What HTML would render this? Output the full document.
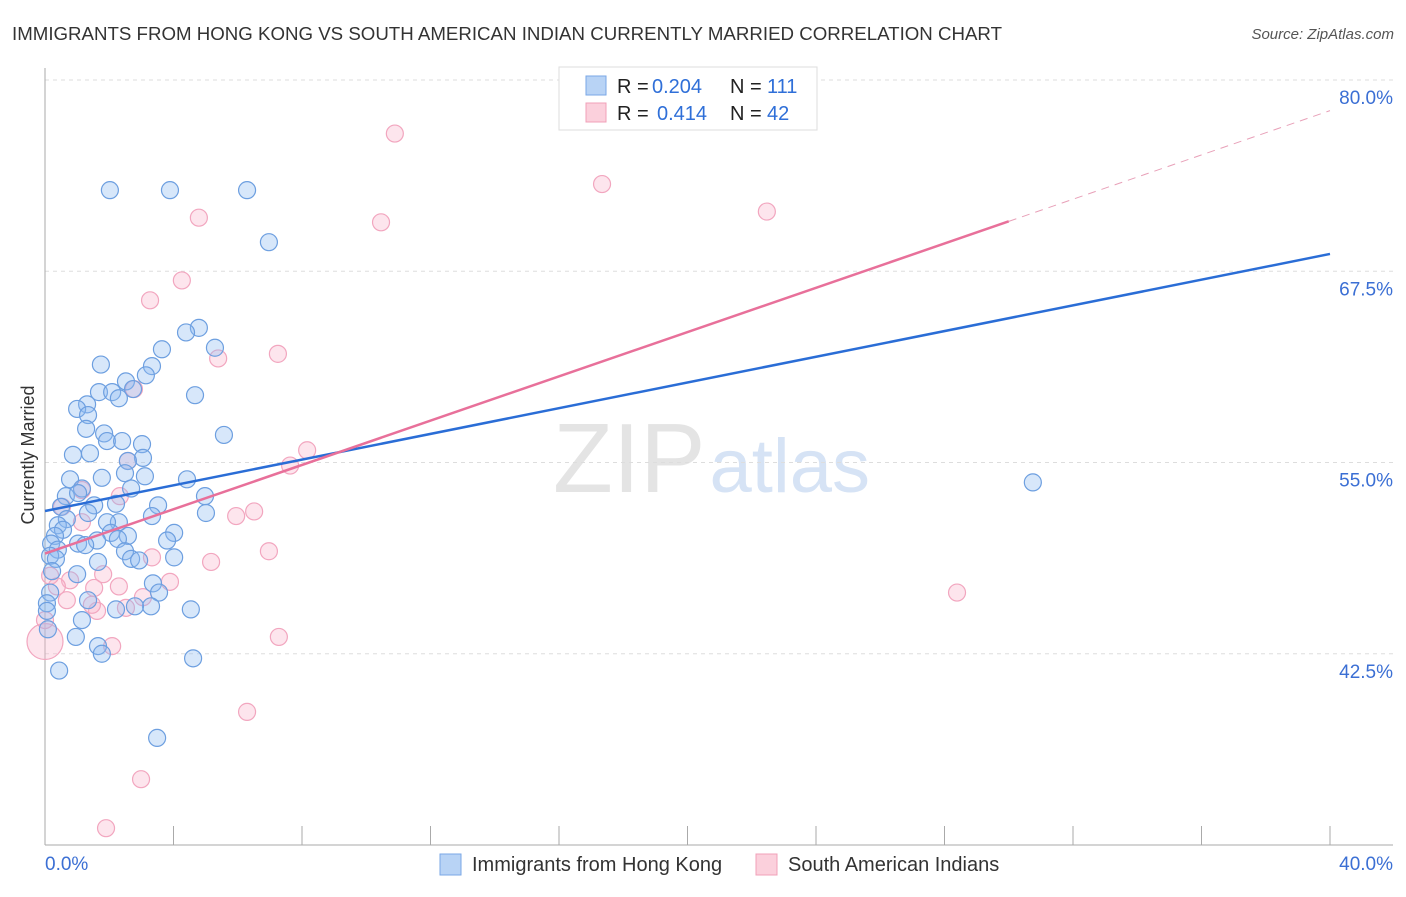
<!DOCTYPE html>
<html><head><meta charset="utf-8"><style>
body{margin:0;background:#fff;font-family:"Liberation Sans",sans-serif}
svg text{font-family:"Liberation Sans",sans-serif}
</style></head><body>
<svg id="chart" width="1406" height="892" xmlns="http://www.w3.org/2000/svg">
<text x="12" y="40" font-size="18" fill="#333" textLength="990" lengthAdjust="spacingAndGlyphs">IMMIGRANTS FROM HONG KONG VS SOUTH AMERICAN INDIAN CURRENTLY MARRIED CORRELATION CHART</text>
<text x="1394" y="39" font-size="15" fill="#555" font-style="italic" text-anchor="end">Source: ZipAtlas.com</text>
<text x="553" y="492" font-size="98" fill="#e4e4e4" font-family="Liberation Serif">ZIP<tspan fill="#d6e3f5" font-family="Liberation Sans" font-size="76" dx="4">atlas</tspan></text>
<g id="grid"></g><g id="axes"></g><g id="pts"></g><g id="lines"></g>
<text transform="translate(34,455) rotate(-90)" font-size="18" fill="#333" text-anchor="middle">Currently Married</text>
<g>
<rect x="559" y="67" width="258" height="63" fill="#fff" stroke="#ddd"/>
<rect x="586" y="76" width="20" height="19" fill="#b8d3f5" stroke="#7aa7e6"/>
<text x="617" y="93" font-size="20" fill="#222">R =</text>
<text x="652" y="93" font-size="20" fill="#2f6fd8">0.204</text>
<text x="730" y="93" font-size="20" fill="#222">N =</text>
<text x="767" y="93" font-size="20" fill="#2f6fd8">111</text>
<rect x="586" y="103" width="20" height="19" fill="#fbd0dc" stroke="#f0a0b8"/>
<text x="617" y="120" font-size="20" fill="#222">R =</text>
<text x="657" y="120" font-size="20" fill="#2f6fd8">0.414</text>
<text x="730" y="120" font-size="20" fill="#222">N =</text>
<text x="767" y="120" font-size="20" fill="#2f6fd8">42</text>
</g>
<g>
<rect x="440" y="854" width="21" height="21" fill="#b8d3f5" stroke="#7aa7e6"/>
<text x="472" y="871" font-size="20" fill="#333">Immigrants from Hong Kong</text>
<rect x="756" y="854" width="21" height="21" fill="#fbd0dc" stroke="#f0a0b8"/>
<text x="788" y="871" font-size="20" fill="#333">South American Indians</text>
</g>
</svg>
<script>
const blueX=[2.02,3.89,6.29,6.97,4.79,4.39,5.29,3.64,1.74,3.33,3.14,2.52,1.68,2.09,2.30,2.74,4.67,1.31,1.00,1.34,5.57,1.84,1.28,1.93,2.40,3.02,1.40,0.87,3.05,2.58,2.49,3.11,0.78,4.42,1.77,1.15,2.68,0.65,1.03,4.98,1.53,2.21,3.52,0.50,1.34,3.33,5.01,0.68,2.30,1.93,0.40,0.56,2.05,2.58,4.02,0.31,1.62,2.27,1.03,1.25,0.19,0.40,2.49,3.80,0.16,0.34,4.02,2.68,2.93,1.65,0.22,1.00,3.36,0.16,3.55,0.06,3.30,2.80,2.21,4.54,1.15,0.09,0.96,1.65,1.77,4.61,0.44,3.49,30.75,0.06,1.34];
const blueY=[72.8,72.8,72.8,69.4,63.8,63.5,62.5,62.4,61.4,61.3,60.7,60.3,59.6,59.6,59.2,59.8,59.4,58.8,58.5,58.1,56.8,56.9,57.2,56.4,56.4,56.2,55.6,55.5,55.3,55.1,54.3,54.1,53.9,53.9,54.0,53.3,53.3,52.8,53.0,52.8,52.2,52.3,52.2,52.1,51.7,51.5,51.7,51.3,51.1,51.1,50.9,50.6,50.4,50.2,50.4,50.2,49.9,50.0,49.7,49.6,49.7,49.3,49.2,49.9,48.9,48.7,48.8,48.7,48.6,48.5,47.9,47.7,47.1,46.5,46.5,45.8,45.6,45.6,45.4,45.4,44.7,44.1,43.6,43.0,42.5,42.2,41.4,37.0,53.7,45.3,46.0];
const pinkX=[10.89,17.34,22.47,4.79,10.46,4.26,3.27,7.25,5.39,2.77,8.16,2.58,7.63,2.33,1.15,0.53,6.51,5.95,1.15,3.33,6.97,5.17,1.81,0.78,2.30,0.37,3.89,1.53,3.05,0.68,1.62,2.52,28.39,7.28,2.09,0.00,6.29,2.99,1.90,0.16,0.00,1.46];
const pinkY=[76.5,73.2,71.4,71.0,70.7,66.9,65.6,62.1,61.8,59.8,55.8,55.1,54.8,52.8,53.2,52.1,51.8,51.5,51.1,48.8,49.2,48.5,47.7,47.3,46.9,46.9,47.2,46.8,46.2,46.0,45.3,45.5,46.5,43.6,43.0,43.3,38.7,34.3,31.1,47.6,44.7,45.7];
const bigPink=35;
const yTicks=[80,67.5,55,42.5];
const xTickLabels=["0.0%","40.0%"];
const blueTrend=[51.83,0.42];
const pinkTrend=[49.05,0.7237];
const pinkSolidEnd=30;
const NS="http://www.w3.org/2000/svg";
const X0=45,X1=1330,xs=v=>X0+(v/40)*(X1-X0);
const ys=v=>80+(80-v)*15.3;
function mk(tag,attrs,parent){const e=document.createElementNS(NS,tag);for(const k in attrs)e.setAttribute(k,attrs[k]);document.getElementById(parent).appendChild(e);return e;}
yTicks.forEach(t=>{
 const l=mk('line',{x1:45,x2:1393,y1:ys(t),y2:ys(t),stroke:'#ddd','stroke-dasharray':'4,4'},'grid');
 
 
 const tx=mk('text',{x:1393,y:ys(t)+24,'font-size':19,fill:'#3b6fd4','text-anchor':'end'},'grid');
 tx.textContent=t.toFixed(1)+'%';
 
 
});
const a1=mk('line',{x1:45,x2:45,y1:68,y2:845,stroke:'#aaa'},'axes');


const a2=mk('line',{x1:45,x2:1393,y1:845,y2:845,stroke:'#aaa'},'axes');


for(let i=1;i<=10;i++){const t=mk('line',{x1:xs(i*4),x2:xs(i*4),y1:826,y2:845,stroke:'#aaa'},'axes');
 
 }
const l0=mk('text',{x:45,y:870,'font-size':19,fill:'#3b6fd4'},'axes');l0.textContent=xTickLabels[0];


const l1=mk('text',{x:1393,y:870,'font-size':19,fill:'#3b6fd4','text-anchor':'end'},'axes');l1.textContent=xTickLabels[1];


pinkX.forEach((x,i)=>{const c=mk('circle',{cx:xs(x),cy:ys(pinkY[i]),r:i===bigPink?18:8.5,fill:'rgba(248,180,202,0.35)',stroke:'#f2a6bf','stroke-width':1.2},'pts');
 
 });
blueX.forEach((x,i)=>{const c=mk('circle',{cx:xs(x),cy:ys(blueY[i]),r:8.5,fill:'rgba(140,185,240,0.35)',stroke:'#6d9fe0','stroke-width':1.2},'pts');
 
 });
const bl=mk('line',{x1:xs(0),y1:ys(blueTrend[0]),x2:xs(40),y2:ys(blueTrend[0]+40*blueTrend[1]),stroke:'#2a6dd6','stroke-width':2.5},'lines');


const pl=mk('line',{x1:xs(0),y1:ys(pinkTrend[0]),x2:xs(pinkSolidEnd),y2:ys(pinkTrend[0]+pinkSolidEnd*pinkTrend[1]),stroke:'#e8709a','stroke-width':2.5},'lines');


const pd=mk('line',{x1:xs(pinkSolidEnd),y1:ys(pinkTrend[0]+pinkSolidEnd*pinkTrend[1]),x2:xs(40),y2:ys(pinkTrend[0]+40*pinkTrend[1]),stroke:'#e8a0b8','stroke-width':1,'stroke-dasharray':'8,6'},'lines');


</script>
</body></html>
